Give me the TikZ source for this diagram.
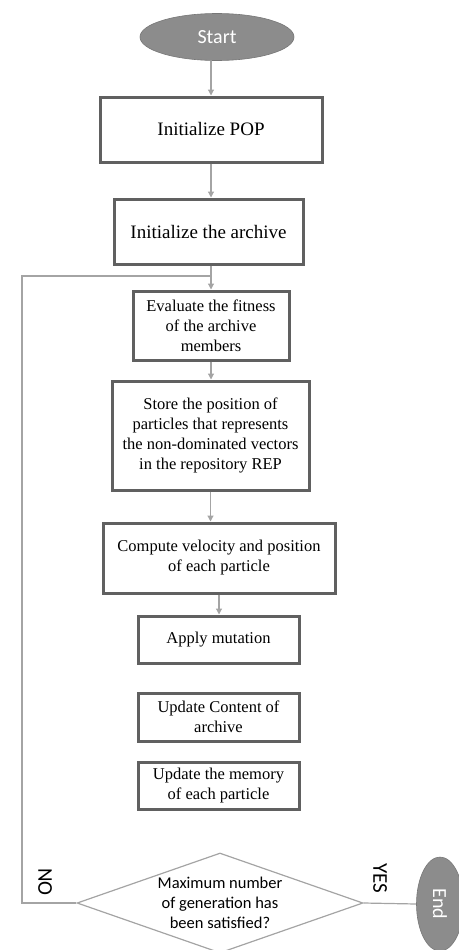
\documentclass[tikz,border=0pt]{standalone}
\usepackage{fontspec}
\setmainfont{Liberation Serif}
\newfontfamily\calib{Carlito}
\usetikzlibrary{arrows.meta,shapes.geometric}
\definecolor{boxline}{HTML}{606060}
\definecolor{linkgray}{HTML}{A4A4A4}
\definecolor{termfill}{HTML}{8C8C8C}
\tikzset{
  procbox/.style={draw=boxline, line width=3pt, fill=white, align=center,
    inner sep=0pt, font=\fontsize{16.5}{20}\selectfont},
  bigbox/.style={procbox, font=\fontsize{19}{23}\selectfont},
  terminal/.style={ellipse, draw=termfill!85!black, line width=0.6pt, fill=termfill,
    text=white, inner sep=0pt, font=\calib\fontsize{20}{24}\selectfont},
  decision/.style={diamond, draw=linkgray, line width=1.2pt, inner sep=0pt,
    minimum width=286pt, minimum height=100pt},
  dectext/.style={align=center, font=\calib\fontsize{16.5}{20}\selectfont},
  branch/.style={font=\calib\fontsize{21}{24}\selectfont, rotate=-90},
  arr/.style={draw=linkgray, line width=1.2pt, -{Triangle[width=6pt,length=6pt]}},
  link/.style={draw=linkgray, line width=1.2pt}
}
\begin{document}
\begin{tikzpicture}[x=1pt,y=-1pt]
\useasboundingbox (0,0) rectangle (458,950);

% terminals
\node[terminal, minimum width=154pt, minimum height=47pt] (start) at (217,37) {Start};
\node[terminal, minimum width=47pt, minimum height=94pt] (finish) at (440,904) {};
\node[font=\calib\fontsize{20}{24}\selectfont, text=white, rotate=-90] (finishtext) at (finish) {End};

% process steps
\node[bigbox, minimum width=222pt, minimum height=65pt] (pop) at (211,129.5) {Initialize POP};
\node[bigbox, minimum width=189pt, minimum height=65pt] (arch) at (208.5,231.5) {Initialize the archive};
\node[procbox, minimum width=156pt, minimum height=69pt] (eval) at (211,325.5)
  {Evaluate the fitness\\of the archive\\members};
\node[procbox, minimum width=197pt, minimum height=109pt] (store) at (210.5,435.5)
  {Store the position of\\particles that represents\\the non-dominated vectors\\in the repository REP};
\node[procbox, minimum width=232pt, minimum height=70pt] (comp) at (219,558)
  {Compute velocity and position\\of each particle};
\node[procbox, minimum width=161pt, minimum height=47pt] (mut) at (218.5,639.5) {Apply mutation};
\node[procbox, minimum width=161pt, minimum height=48pt] (upd) at (218.5,717)
  {Update Content of\\archive};
\node[procbox, minimum width=161pt, minimum height=47pt] (mem) at (218.5,785.5)
  {Update the memory\\of each particle};

% stopping test
\node[decision] (dec) at (220,903) {};
\node[dectext] (dectxt) at (dec) {Maximum number\\of generation has\\been satisfied?};

% branch labels
\node[branch] (no) at (45,882) {NO};
\node[branch] (yes) at (380,878) {YES};

% flow
\coordinate (join) at (211,276);
\coordinate (loopbot) at (22,903);
\draw[arr] (pop.north |- start.south) -- (pop.north);
\draw[arr] (pop.south) -- (pop.south |- arch.north);
\draw[arr] (eval.north |- arch.south) -- (eval.north);
\draw[arr] (eval.south) -- (eval.south |- store.north);
\draw[arr] (store.south) -- (store.south |- comp.north);
\draw[arr] (comp.south) -- (comp.south |- mut.north);
\draw[link] (dec.west) -- (loopbot) |- (join);
\draw[link] (dec.east) -- (finish.west);
\end{tikzpicture}
\end{document}
